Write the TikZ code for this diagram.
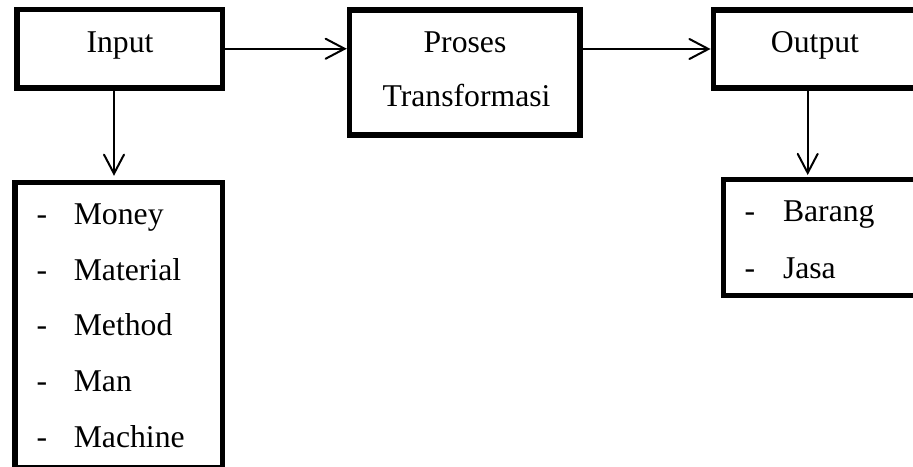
\documentclass[tikz,border=0pt]{standalone}
\usepackage{fontspec}
\setmainfont{Liberation Serif}
\usetikzlibrary{arrows.meta}

\tikzset{
  box/.style={draw=black, line width=5.5pt, rectangle, inner sep=0pt, fill=white},
  lbl/.style={inner sep=0pt, font=\fontsize{31.7}{38}\selectfont},
  arr/.style={line width=2pt, -{Straight Barb[length=19pt, width=20pt, line cap=round]}},
}

\begin{document}
\begin{tikzpicture}[x=1pt, y=-1pt]
  \useasboundingbox (0,0) rectangle (913,466);
  \clip (0,0) rectangle (913,466);

  % main flow boxes (the right-hand ones run past the page edge)
  \node[box, minimum width=205.3pt, minimum height=78.5pt] (inbox) at (119.65,48.75) {};
  \node[box, minimum width=230.5pt, minimum height=125pt] (proses) at (464.75,72.5) {};
  \node[box, minimum width=216.7pt, minimum height=78pt] (outbox) at (821.65,49) {};

  % detail boxes
  \node[box, minimum width=207.3pt, minimum height=285.5pt] (inlist) at (118.85,325.25) {};
  \node[box, minimum width=206.7pt, minimum height=116pt] (outlist) at (826.65,237.5) {};

  % box titles
  \node[lbl, anchor=base] (tin) at (120,52) {Input};
  \node[lbl, anchor=base] (tpr1) at (465,52.3) {Proses};
  \node[lbl, anchor=base] (tpr2) at (466.5,106.7) {Transformasi};
  \node[lbl, anchor=base] (tout) at (815,52.7) {Output};

  % input items
  \foreach \y/\w [count=\i] in {224/Money, 280/Material, 335.7/Method, 391.7/Man, 447.7/Machine} {
    \node[lbl, anchor=base west] (dash\i) at (36.4,\y) {-};
    \node[lbl, anchor=base west] (item\i) at (73.6,\y) {\w};
  }

  % output items
  \node[lbl, anchor=base west] (odash1) at (744.4,221.7) {-};
  \node[lbl, anchor=base west] (oitem1) at (782.8,221.7) {Barang};
  \node[lbl, anchor=base west] (odash2) at (744.4,278.3) {-};
  \node[lbl, anchor=base west] (oitem2) at (782.8,278.3) {Jasa};

  % connectors
  \draw[arr] (inbox.east) -- (inbox.east -| proses.west);
  \draw[arr] (proses.east |- outbox.west) -- (outbox.west);
  \draw[arr] ([xshift=-5.65pt]inbox.south) -- ([xshift=-4.85pt, yshift=4pt]inlist.north);
  \draw[arr] ([xshift=-13.95pt]outbox.south) -- ([xshift=-18.95pt, yshift=1.75pt]outlist.north);
\end{tikzpicture}
\end{document}
